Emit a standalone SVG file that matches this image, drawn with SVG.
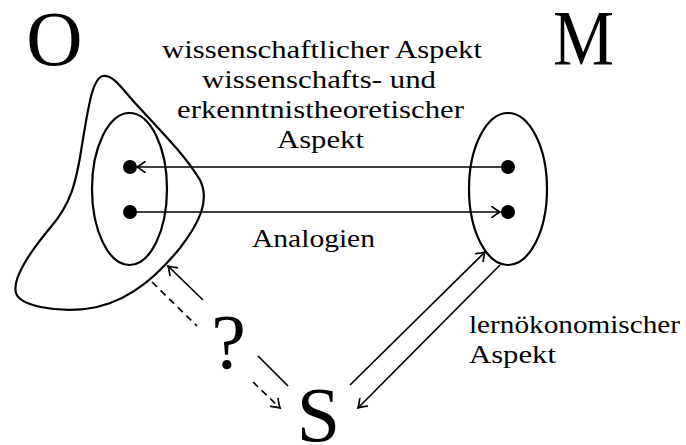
<svg xmlns="http://www.w3.org/2000/svg" width="686" height="445" viewBox="0 0 686 445">
<defs>
<style>
.shape{fill:none;stroke:#000;stroke-width:2.2}
.conn{fill:none;stroke:#000;stroke-width:1.7}
.dash{stroke-dasharray:7,5}
.dot{fill:#000}
.lbl{font-family:"Liberation Serif","Times New Roman",serif;font-size:26px;fill:#000}
.big{font-family:"Liberation Serif","Times New Roman",serif;font-size:78px;fill:#000}
</style>
<marker id="tip" viewBox="-10 -6 12 12" markerWidth="12" markerHeight="12" refX="0" refY="0" orient="auto" markerUnits="userSpaceOnUse">
<path d="M -8,-5.5 Q -3,-1.5 0,0 Q -3,1.5 -8,5.5" fill="none" stroke="#000" stroke-width="1.7" stroke-linecap="round"/>
</marker>
</defs>
<rect width="686" height="445" fill="#fff"/>
<g id="O">
<path class="shape" d="M 103,76 C 92,78 88,110 82,145 C 76,185 70,205 50,228 C 30,252 12,278 16,293 C 20,306 55,312 85,309 C 120,305 150,285 180,248 C 200,222 210,200 200,180 C 185,155 160,130 135,103 C 120,86 113,75 103,76 Z"/>
<ellipse class="shape" cx="129.5" cy="189" rx="37.5" ry="76"/>
<circle class="dot" cx="130" cy="167" r="7"/>
<circle class="dot" cx="130" cy="212" r="7"/>
<text class="big" x="54.5" y="65" text-anchor="middle">O</text>
</g>
<g id="M">
<ellipse class="shape" cx="508" cy="189" rx="39" ry="76"/>
<circle class="dot" cx="508" cy="167" r="7"/>
<circle class="dot" cx="508" cy="212" r="7"/>
<text class="big" x="553" y="64" textLength="61" lengthAdjust="spacingAndGlyphs">M</text>
</g>
<g id="S">
<text class="big" x="318.5" y="441" text-anchor="middle">S</text>
</g>
<g id="connectors">
<line class="conn" x1="508" y1="167" x2="137" y2="167" marker-end="url(#tip)"/>
<line class="conn" x1="130" y1="212" x2="500" y2="212" marker-end="url(#tip)"/>
<line class="conn" x1="350" y1="385" x2="485" y2="252" marker-end="url(#tip)"/>
<line class="conn" x1="500" y1="265" x2="358" y2="408" marker-end="url(#tip)"/>
<line class="conn" x1="288" y1="386" x2="258" y2="356"/>
<line class="conn" x1="203" y1="300" x2="168" y2="266" marker-end="url(#tip)"/>
<line class="conn dash" x1="152" y1="282" x2="197" y2="326"/>
<line class="conn dash" x1="253" y1="382" x2="280" y2="408" marker-end="url(#tip)"/>
</g>
<g id="labels">
<text class="lbl" x="162" y="58" textLength="320" lengthAdjust="spacingAndGlyphs">wissenschaftlicher Aspekt</text>
<text class="lbl" x="202" y="88" textLength="234" lengthAdjust="spacingAndGlyphs">wissenschafts- und</text>
<text class="lbl" x="177" y="118" textLength="287" lengthAdjust="spacingAndGlyphs">erkenntnistheoretischer</text>
<text class="lbl" x="277" y="148" textLength="87" lengthAdjust="spacingAndGlyphs">Aspekt</text>
<text class="lbl" x="252" y="247" textLength="123" lengthAdjust="spacingAndGlyphs">Analogien</text>
<text class="lbl" x="469" y="333" textLength="211" lengthAdjust="spacingAndGlyphs">lernökonomischer</text>
<text class="lbl" x="469" y="363" textLength="87" lengthAdjust="spacingAndGlyphs">Aspekt</text>
<text class="big" x="228.5" y="368" text-anchor="middle">?</text>
</g>
</svg>
